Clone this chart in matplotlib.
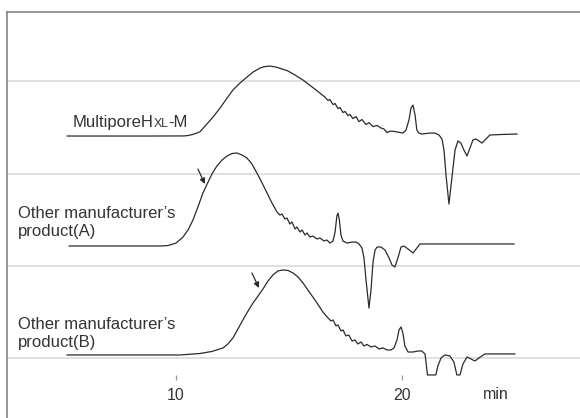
import numpy as np
import matplotlib.pyplot as plt
from matplotlib.offsetbox import TextArea, HPacker, AnnotationBbox

plt.rcParams['font.family'] = ['Liberation Sans', 'DejaVu Sans']

# chromatograms: time (min) and detector response (a.u., relative to each baseline)
multipore_t = [5.18, 8.85, 10.35, 10.55, 10.72, 10.88, 11.06, 11.33, 11.64, 11.95, 12.26, 12.52,
               12.83, 13.14, 13.41, 13.72, 13.94, 14.16, 14.42, 14.69, 14.91, 15.27, 15.62, 15.97,
               16.37, 16.59, 16.73, 16.81, 16.95, 17.04, 17.17, 17.26, 17.39, 17.48, 17.61, 17.70,
               17.83, 17.97, 18.10, 18.23, 18.41, 18.54, 18.72, 18.90, 19.07, 19.20, 19.34, 19.47,
               19.60, 19.82, 20.04, 20.18, 20.31, 20.40, 20.49, 20.58, 20.66, 20.75, 20.88, 21.24,
               21.46, 21.64, 21.77, 21.86, 21.95, 22.08, 22.21, 22.35, 22.48, 22.61, 22.74, 22.88,
               23.01, 23.14, 23.27, 23.41, 23.54, 23.72, 23.89, 24.34, 25.09]
multipore_r = [0, 0, 0.1, 0.6, 1.6, 2.9, 4.6, 11.9, 20.6, 30.3, 41.1, 49.8,
               57.3, 63.8, 69.2, 73.6, 75.2, 75.7, 74.7, 72.5, 70.9, 66.0, 60.6, 54.1,
               46.5, 42.2, 38.4, 39.6, 34.0, 35.2, 29.7, 30.9, 25.4, 26.6, 22.1, 23.3,
               18.9, 21.0, 15.6, 17.8, 12.4, 14.5, 10.2, 11.4, 8.7, 7.6, 3.7, 5.2,
               5.2, 4.3, 3.2, 6.5, 17.3, 30.3, 33.5, 22.7, 6.5, 3.2, 2.2, 3.2,
               3.2, 1.1, -3.2, -15.1, -42.2, -73.6, -45.4, -15.1, -5.4, -7.6, -15.1, -21.6,
               -13.0, -4.3, -3.2, -5.4, -7.6, -3.2, 1.1, 1.6, 2.2]

prod_a_t = [5.27, 9.29, 9.65, 10.00, 10.31, 10.53, 10.75, 10.97, 11.19, 11.42, 11.59, 11.81,
            12.04, 12.26, 12.48, 12.70, 12.92, 13.14, 13.36, 13.58, 13.81, 14.03, 14.25, 14.47,
            14.60, 14.69, 14.82, 14.91, 15.04, 15.13, 15.27, 15.35, 15.49, 15.58, 15.71, 15.80,
            15.93, 16.06, 16.24, 16.37, 16.55, 16.68, 16.81, 16.95, 17.04, 17.12, 17.17, 17.23,
            17.30, 17.39, 17.57, 17.79, 17.97, 18.10, 18.23, 18.32, 18.41, 18.54, 18.63, 18.72,
            18.81, 18.90, 19.07, 19.25, 19.43, 19.56, 19.69, 19.82, 19.96, 20.09, 20.27, 20.49,
            20.66, 20.80, 24.96]
prod_a_r = [0, 0, 0.5, 3.2, 9.7, 17.3, 28.1, 42.2, 57.3, 69.2, 77.9, 86.6,
            93.1, 97.4, 100.1, 100.6, 98.5, 95.2, 88.7, 79.0, 68.2, 57.3, 46.5, 36.8,
            33.5, 34.6, 29.2, 30.3, 23.8, 26.0, 18.4, 20.6, 15.1, 17.3, 11.9, 14.1,
            9.7, 10.8, 7.6, 8.7, 5.4, 6.5, 3.2, 5.4, 15.1, 32.5, 35.7, 28.1,
            11.9, 5.4, 3.2, 4.3, 4.3, 2.2, -2.2, -13.0, -36.8, -67.1, -47.6, -17.3,
            -4.3, -1.1, -1.1, -4.3, -13.0, -20.6, -22.7, -13.0, -1.1, 0, -3.2, -7.6,
            -2.2, 2.2, 2.2]

prod_b_t = [5.18, 10.18, 11.06, 11.59, 12.08, 12.30, 12.52, 12.74, 12.96, 13.19, 13.41, 13.63,
            13.85, 14.07, 14.29, 14.51, 14.73, 14.96, 15.18, 15.40, 15.62, 15.93, 16.24, 16.50,
            16.73, 16.86, 16.95, 17.08, 17.17, 17.30, 17.39, 17.52, 17.65, 17.79, 17.92, 18.05,
            18.19, 18.32, 18.45, 18.63, 18.81, 18.98, 19.16, 19.34, 19.51, 19.65, 19.78, 19.87,
            19.96, 20.04, 20.13, 20.27, 20.49, 20.71, 20.88, 21.02, 21.08, 21.13, 21.50, 21.59,
            21.73, 21.90, 22.12, 22.30, 22.43, 22.57, 22.70, 22.88, 23.05, 23.23, 23.41, 23.67,
            25.00]
prod_b_r = [0, 0, 1.6, 3.8, 7.6, 11.9, 18.4, 28.1, 37.9, 47.6, 56.3, 63.8,
            71.4, 80.0, 86.6, 90.9, 92.0, 91.4, 88.7, 84.4, 77.9, 67.1, 56.3, 46.5,
            40.0, 36.8, 37.9, 31.4, 32.5, 26.0, 27.1, 20.6, 21.6, 15.1, 16.2, 11.9,
            14.1, 9.7, 11.4, 8.7, 9.7, 6.5, 7.6, 5.4, 5.4, 7.6, 16.2, 27.1,
            30.3, 23.8, 9.7, 3.2, 3.2, 4.3, 4.3, 1.1, -10.8, -21.6, -21.6, -11.9,
            -3.2, 0, -1.1, -7.6, -21.6, -21.6, -9.7, -2.2, -4.3, -6.5, -3.2, 1.1,
            1.1]

offsets = [240.7, 121.7, 3.8]
names = ["Other manufacturer\u2019s\nproduct(A)", "Other manufacturer\u2019s\nproduct(B)"]
x_ticks = [10, 20]

ink = '#2b2b2b'
txt = '#333333'
fig = plt.figure(figsize=(5.8, 4.18), dpi=100)
ax = fig.add_axes([7 / 580, 0, 1.0, 406 / 418])

traces = [(multipore_t, multipore_r), (prod_a_t, prod_a_r), (prod_b_t, prod_b_r)]
for (t, r), off in zip(traces, offsets):
    ax.plot(t, np.array(r) + off, color=ink, lw=0.9, solid_joinstyle='round')

ax.set_xlim(2.52, 28.19)
ax.set_ylim(-64.4, 374.9)

ax.set_yticks([0, 100, 200, 300])
ax.yaxis.grid(True, color='#dddddd', lw=1.3)
ax.tick_params(axis='y', length=0, labelleft=False)

for s in ['left', 'top']:
    ax.spines[s].set_color('#7a7a7a')
    ax.spines[s].set_linewidth(1.1)
ax.spines['right'].set_visible(False)
ax.spines['bottom'].set_position(('data', -23.3))
ax.spines['bottom'].set_color('none')
ax.set_xticks(x_ticks)
ax.set_xticklabels([str(v) for v in x_ticks])
ax.tick_params(axis='x', direction='in', length=3.6, width=0.9, color='#999999',
               pad=5.5, labelsize=11.5, labelcolor=txt)
ax.text(24.16, -39.5, 'min', fontsize=11.5, color=txt, ha='center', va='center')

# MultiporeH(XL)-M label with small capitals
parts = [TextArea('MultiporeH', textprops=dict(fontsize=12, color=txt)),
         TextArea('XL', textprops=dict(fontsize=8.8, color=txt)),
         TextArea('-M', textprops=dict(fontsize=12, color=txt))]
box = HPacker(children=parts, align='baseline', pad=0, sep=0)
ax.add_artist(AnnotationBbox(box, (5.44, 255.4), box_alignment=(0, 0.5), frameon=False))

ax.text(3.01, 146.6, names[0], fontsize=12, color=txt, va='center', linespacing=1.25)
ax.text(3.01, 26.5, names[1], fontsize=12, color=txt, va='center', linespacing=1.25)

arrow = dict(arrowstyle='-|>', lw=0.9, color=ink, mutation_scale=8, shrinkA=0, shrinkB=0)
ax.annotate('', xy=(11.28, 188.8), xytext=(10.97, 205.0), arrowprops=arrow)
ax.annotate('', xy=(13.67, 76.3), xytext=(13.36, 92.5), arrowprops=arrow)

fig.savefig('out.png', dpi=100)
